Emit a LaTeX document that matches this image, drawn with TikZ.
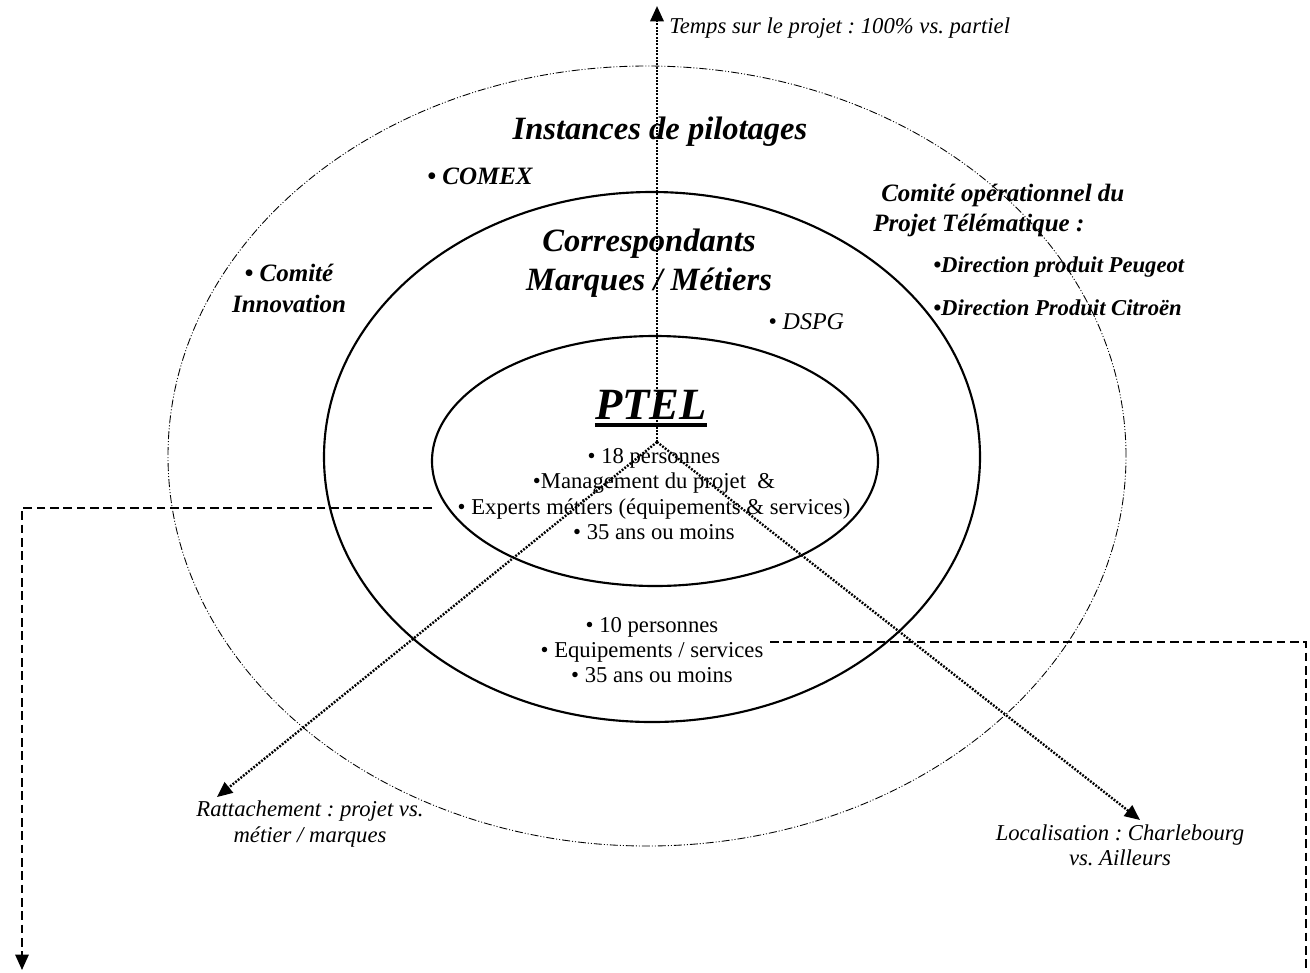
\documentclass[tikz,border=0pt]{standalone}
\usepackage{fontspec}
\setmainfont{Liberation Serif}
\usetikzlibrary{arrows.meta}
\frenchspacing
\begin{document}
\begin{tikzpicture}[x=0.75pt,y=-0.75pt,
  ringsolid/.style={draw, line width=1.6pt},
  ringdash/.style={draw, line width=0.65pt, dash pattern=on 6pt off 1.5pt on 0.75pt off 1.5pt on 0.75pt off 1.5pt},
  axis/.style={line width=1.8pt, dash pattern=on 1.4pt off 1.1pt, -{Triangle[length=11.5pt,width=10pt]}},
  link/.style={line width=1.3pt, dash pattern=on 6.5pt off 3.5pt},
  linkarrow/.style={link, -{Triangle[length=11.5pt,width=10pt]}},
  lbl/.style={font=\fontsize{17}{19}\selectfont\itshape, inner sep=0pt, align=center},
  head/.style={font=\fontsize{24.4}{29.5}\selectfont\bfseries\itshape, inner sep=0pt, align=center},
  sub/.style={font=\fontsize{18.75}{23.2}\selectfont\bfseries\itshape, inner sep=0pt, align=center},
  subsmall/.style={font=\fontsize{17}{19}\selectfont\bfseries\itshape, inner sep=0pt},
  body/.style={font=\fontsize{17}{19}\selectfont, inner sep=0pt, align=center},
]
\useasboundingbox (0,0) rectangle (1310,972);

% rings
\draw[ringdash] (647,456) ellipse [x radius=359.25pt, y radius=292.5pt];
\draw[ringsolid] (652,457) ellipse [x radius=246pt, y radius=198.75pt];
\draw[ringsolid] (655,461) ellipse [x radius=167.25pt, y radius=93.75pt];

% texts
\node[head] (inst) at (660,132) {Instances de pilotages};
\node[sub] (comex) at (480,176) {• COMEX};
\node[sub] (innov) at (289,288) {• Comité\\Innovation};
\node[sub, anchor=west] (cop1) at (881,195) {Comité opérationnel du};
\node[sub, anchor=west] (cop2) at (873,225) {Projet Télématique :};
\node[subsmall, anchor=west] (peug) at (933,267) {•Direction produit Peugeot};
\node[subsmall, anchor=west] (citr) at (933,308) {•Direction Produit Citroën};
\node[head] (corr) at (649,263) {Correspondants\\Marques / Métiers};
\node[font=\fontsize{18}{21}\selectfont\itshape, inner sep=0pt, anchor=west] (dspg) at (768,322) {• DSPG};
\node[font=\fontsize{33.5}{36}\selectfont\bfseries\itshape, inner sep=0pt, anchor=base] (ptel) at (651,419) {PTEL};
\draw[line width=2.4pt] ([yshift=-4.5pt]ptel.base west) -- ([yshift=-4.5pt]ptel.base east);
\node[body] (core) at (654,494) {• 18 personnes\\•Management du projet~~\&\\• Experts métiers (équipements \& services)\\• 35 ans ou moins};
\node[body] (mid) at (652,650) {• 10 personnes\\• Equipements / services\\• 35 ans ou moins};

\node[lbl, anchor=west] (ltime) at (669,28) {Temps sur le projet : 100\% vs. partiel};
\node[lbl] (lratt) at (310,824) {Rattachement : projet vs.\\métier / marques};
\node[lbl] (lloc) at (1120,845) {Localisation : Charlebourg\\vs. Ailleurs};

% axes
\coordinate (c) at (657,442);
\coordinate (ttop) at (657,6);
\coordinate (tleft) at (217,797);
\coordinate (tright) at (1140,820);
\draw[axis] (c) -- (ttop);
\draw[axis] (c) -- (tleft);
\draw[axis] (c) -- (tright);

% dashed links
\coordinate (la) at (432,508);
\coordinate (lb) at (22,508);
\coordinate (lc) at (22,970);
\draw[linkarrow] (la) -- (lb) -- (lc);
\coordinate (ra) at (770,642);
\coordinate (rb) at (1306,642);
\coordinate (rc) at (1306,972);
\draw[link] (ra) -- (rb) -- (rc);
\end{tikzpicture}
\end{document}
